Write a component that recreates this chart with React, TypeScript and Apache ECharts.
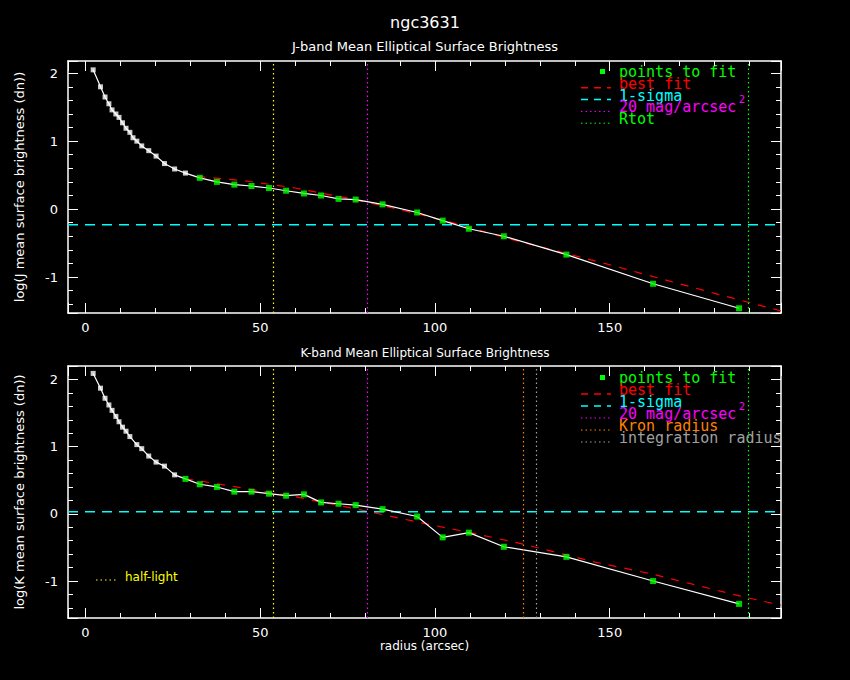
import React, { useEffect, useRef } from "react";
import * as echarts from "echarts";

// J band profile
const jInner = [[2.2, 2.05], [4.3, 1.8], [5.6, 1.65], [6.7, 1.55], [7.6, 1.46], [8.7, 1.4], [9.6, 1.35], [10.6, 1.27], [11.6, 1.19], [12.7, 1.13], [13.6, 1.05], [14.7, 1.0], [16.1, 0.93], [18.1, 0.86], [20.2, 0.78], [22.6, 0.67], [25.5, 0.59], [28.6, 0.53]];
const jFit = [[32.7, 0.46], [37.6, 0.4], [42.6, 0.36], [47.5, 0.34], [52.5, 0.31], [57.4, 0.27], [62.5, 0.23], [67.4, 0.2], [72.4, 0.15], [77.3, 0.14], [85.0, 0.07], [94.9, -0.05], [102.2, -0.17], [109.7, -0.29], [119.7, -0.4], [137.6, -0.67], [162.4, -1.1], [187.0, -1.46]];
const jBest = [[32, 0.48], [45, 0.42], [60, 0.31], [75, 0.16], [85, 0.05], [95, -0.07], [105, -0.2], [120, -0.42], [135, -0.62], [150, -0.82], [165, -1.03], [180, -1.24], [199, -1.5]];
const jSigma = -0.23;
const jVert = [{ x: 53.8, c: "#ffff00" }, { x: 80.7, c: "#ff00ff" }, { x: 189.5, c: "#00ff00" }];

// K band profile
const kInner = [[2.2, 2.09], [4.3, 1.87], [5.6, 1.72], [6.7, 1.62], [7.6, 1.54], [8.7, 1.45], [9.6, 1.37], [10.6, 1.29], [11.6, 1.23], [12.7, 1.15], [14.7, 1.03], [16.1, 0.97], [18.1, 0.86], [20.2, 0.77], [22.6, 0.71], [25.5, 0.58]];
const kFit = [[28.6, 0.52], [32.7, 0.44], [37.6, 0.4], [42.6, 0.33], [47.5, 0.33], [52.5, 0.3], [57.4, 0.27], [62.5, 0.29], [67.4, 0.17], [72.4, 0.15], [77.3, 0.13], [85.0, 0.07], [94.9, -0.04], [102.2, -0.35], [109.7, -0.28], [119.7, -0.49], [137.6, -0.64], [162.4, -1.0], [187.0, -1.34]];
const kBest = [[28.6, 0.52], [32.7, 0.49], [44.3, 0.39], [59.5, 0.26], [78.6, 0.06], [97.6, -0.15], [112.9, -0.31], [125.2, -0.45], [145.2, -0.71], [162.4, -0.9], [186.2, -1.21], [199, -1.36]];
const kSigma = 0.03;
const kVert = [{ x: 53.8, c: "#ffff00" }, { x: 80.7, c: "#ff00ff" }, { x: 125.2, c: "#ff8000" }, { x: 129.0, c: "#a0a0a0" }, { x: 189.5, c: "#00ff00" }];

const jLegend = [
  { t: "points to fit", c: "#00ff00", k: "dot" },
  { t: "best fit", c: "#ff0000", k: "dash" },
  { t: "1-sigma", c: "#00ffff", k: "dash" },
  { t: "20 mag/arcsec", c: "#ff00ff", k: "dot", sup: true },
  { t: "Rtot", c: "#00ff00", k: "dot" },
];
const kLegend = [
  { t: "points to fit", c: "#00ff00", k: "dot" },
  { t: "best fit", c: "#ff0000", k: "dash" },
  { t: "1-sigma", c: "#00ffff", k: "dash" },
  { t: "20 mag/arcsec", c: "#ff00ff", k: "dot", sup: true },
  { t: "Kron radius", c: "#ff8000", k: "dot" },
  { t: "integration radius", c: "#a0a0a0", k: "dot" },
];

const FONT = "DejaVu Sans";
const MONO = "DejaVu Sans Mono";
const XMIN = -5, XMAX = 199;

export default function App() {
  const ref = useRef<HTMLDivElement>(null);
  useEffect(() => {
    const chart = echarts.init(ref.current!, null, { renderer: "svg" });
    const grids = [
      { left: 68, top: 61, width: 713, height: 252, ymin: -1.53, ymax: 2.18 },
      { left: 68, top: 366, width: 713, height: 252, ymin: -1.55, ymax: 2.2 },
    ];
    const xAxis: any[] = [];
    const yAxis: any[] = [];
    grids.forEach((g, i) => {
      const tick = { show: true, inside: true, length: 10, lineStyle: { color: "#fff" } };
      const minor = { show: true, splitNumber: 5, length: 5, lineStyle: { color: "#fff" } };
      const line = { show: true, lineStyle: { color: "#fff", width: 1.5 } };
      xAxis.push({ type: "value", gridIndex: i, min: XMIN, max: XMAX, splitNumber: 4, axisLine: { ...line, onZero: false }, axisTick: tick, minorTick: minor, splitLine: { show: false },
        axisLabel: { color: "#fff", fontFamily: FONT, fontSize: 13, showMinLabel: false, showMaxLabel: false, margin: 8 },
        name: i === 1 ? "radius (arcsec)" : "", nameLocation: "middle", nameGap: 22, nameTextStyle: { color: "#fff", fontFamily: FONT, fontSize: 12 } });
      xAxis.push({ type: "value", gridIndex: i, position: "top", min: XMIN, max: XMAX, splitNumber: 4, axisLine: { ...line, onZero: false }, axisTick: tick, minorTick: minor, splitLine: { show: false }, axisLabel: { show: false } });
      yAxis.push({ type: "value", gridIndex: i, min: g.ymin, max: g.ymax, splitNumber: 4, axisLine: { ...line, onZero: false }, axisTick: tick, minorTick: minor, splitLine: { show: false },
        axisLabel: { color: "#fff", fontFamily: FONT, fontSize: 13, showMinLabel: false, showMaxLabel: false, margin: 10 },
        name: i === 0 ? "log(J mean surface brightness (dn))" : "log(K mean surface brightness (dn))", nameLocation: "middle", nameGap: 42, nameTextStyle: { color: "#fff", fontFamily: FONT, fontSize: 13 } });
      yAxis.push({ type: "value", gridIndex: i, position: "right", min: g.ymin, max: g.ymax, splitNumber: 4, axisLine: { ...line, onZero: false }, axisTick: tick, minorTick: minor, splitLine: { show: false }, axisLabel: { show: false } });
    });

    const panel = (i: number, inner: number[][], fit: number[][], best: number[][], sigma: number, vert: any[]) => {
      const xi = i * 2, yi = i * 2;
      return [
        { type: "line", xAxisIndex: xi, yAxisIndex: yi, data: best, symbol: "none", lineStyle: { color: "#ff0000", width: 1.2, type: [8, 8] }, z: 2 },
        { type: "line", xAxisIndex: xi, yAxisIndex: yi, data: [[XMIN, sigma], [XMAX, sigma]], symbol: "none", lineStyle: { color: "#00ffff", width: 1.5, type: [10, 7] }, z: 2,
          markLine: { silent: true, symbol: "none", label: { show: false },
            data: vert.map((v) => ({ xAxis: v.x, lineStyle: { color: v.c, type: [1.5, 3], width: 1.2 } })) } },
        { type: "line", xAxisIndex: xi, yAxisIndex: yi, data: [...inner, ...fit], symbol: "none", lineStyle: { color: "#fff", width: 1.2 }, z: 3 },
        { type: "scatter", xAxisIndex: xi, yAxisIndex: yi, data: inner, symbol: "rect", symbolSize: 5, itemStyle: { color: "#fff" }, z: 4 },
        { type: "scatter", xAxisIndex: xi, yAxisIndex: yi, data: fit, symbol: "rect", symbolSize: 6, itemStyle: { color: "#00ff00" }, z: 4 },
      ];
    };

    const legend = (items: any[], y0: number, dy: number) => {
      const out: any[] = [];
      items.forEach((it, r) => {
        const y = y0 + r * dy;
        if (it.k === "dot") {
          if (r === 0) out.push({ type: "rect", shape: { x: 600, y: y - 3, width: 5, height: 5 }, style: { fill: it.c } });
          else out.push({ type: "line", shape: { x1: 581, y1: y + 4, x2: 611, y2: y + 4 }, style: { stroke: it.c, lineDash: [1.5, 3] } });
        } else {
          out.push({ type: "line", shape: { x1: 581, y1: y + 4, x2: 611, y2: y + 4 }, style: { stroke: it.c, lineWidth: 1.5, lineDash: [7, 6] } });
        }
        out.push({ type: "text", x: 619, y: y, style: { text: it.t, fill: it.c, font: `15px ${MONO}`, textVerticalAlign: "middle" } });
        if (it.sup) out.push({ type: "text", x: 739, y: y - 8, style: { text: "2", fill: it.c, font: `10px ${MONO}`, textVerticalAlign: "middle" } });
      });
      return out;
    };

    chart.setOption({
      animation: false,
      backgroundColor: "#000",
      grid: grids.map((g) => ({ left: g.left, top: g.top, width: g.width, height: g.height })),
      xAxis,
      yAxis,
      series: [...panel(0, jInner, jFit, jBest, jSigma, jVert), ...panel(1, kInner, kFit, kBest, kSigma, kVert)],
      graphic: [
        { type: "text", x: 425, y: 22, style: { text: "ngc3631", fill: "#fff", font: `16px ${FONT}`, textAlign: "center", textVerticalAlign: "middle" } },
        { type: "text", x: 425, y: 46, style: { text: "J-band Mean Elliptical Surface Brightness", fill: "#fff", font: `13px ${FONT}`, textAlign: "center", textVerticalAlign: "middle" } },
        { type: "text", x: 425, y: 353, style: { text: "K-band Mean Elliptical Surface Brightness", fill: "#fff", font: `12px ${FONT}`, textAlign: "center", textVerticalAlign: "middle" } },
        { type: "line", shape: { x1: 96, y1: 580, x2: 117, y2: 580 }, style: { stroke: "#ffff00", lineDash: [1.5, 3] } },
        { type: "text", x: 125, y: 577, style: { text: "half-light", fill: "#ffff00", font: `12px ${FONT}`, textVerticalAlign: "middle" } },
        ...legend(jLegend, 72, 11.8),
        ...legend(kLegend, 378, 12),
      ],
    });
    return () => chart.dispose();
  }, []);
  return <div ref={ref} style={{ width: 850, height: 680, position: "absolute", left: 0, top: 0 }} />;
}
